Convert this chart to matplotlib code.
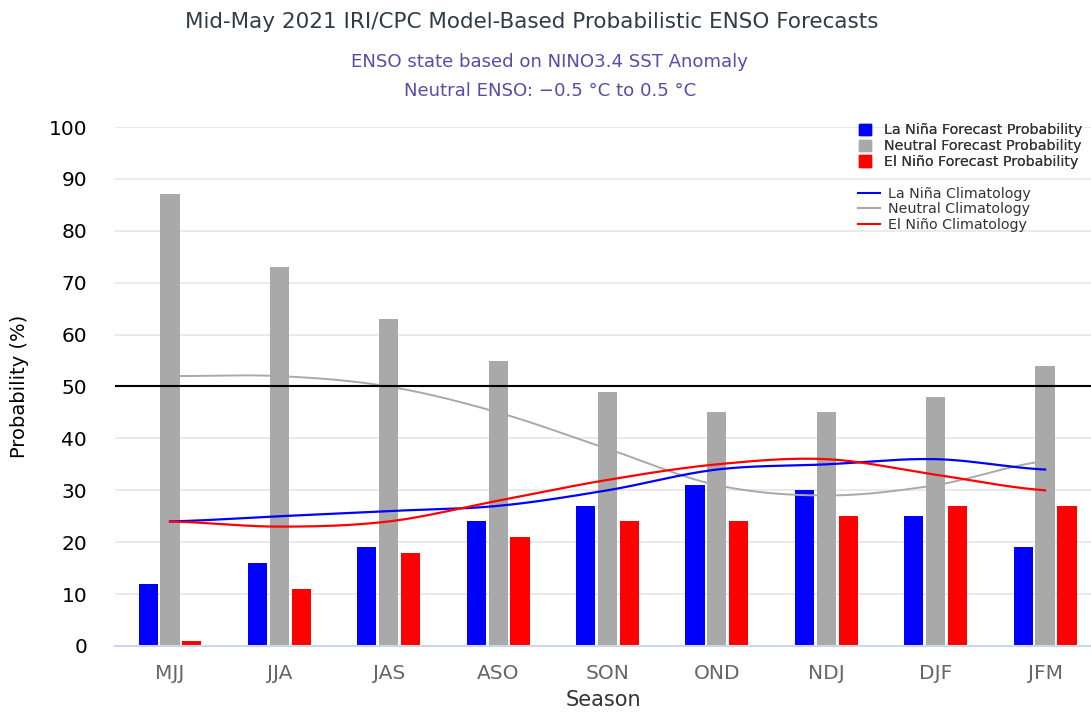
import numpy as np
import matplotlib
matplotlib.use('Agg')
import matplotlib.pyplot as plt
from matplotlib.patches import Patch
from matplotlib.lines import Line2D

seasons = ['MJJ', 'JJA', 'JAS', 'ASO', 'SON', 'OND', 'NDJ', 'DJF', 'JFM']
la_nina = [12, 16, 19, 24, 27, 31, 30, 25, 19]
neutral = [87, 73, 63, 55, 49, 45, 45, 48, 54]
el_nino = [1, 11, 18, 21, 24, 24, 25, 27, 27]

clim_la_nina = [24, 25, 26, 27, 30, 34, 35, 36, 34]
clim_neutral = [52, 52, 50, 45, 38, 31, 29, 31, 35.6]
clim_el_nino = [24, 23, 24, 28, 32, 35, 36, 33, 30]

BLUE = '#0000ff'
GRAY = '#a9a9a9'
RED = '#ff0000'


def smooth(xs, ys, n=40):
    # catmull-rom style curve through the points
    xs = np.asarray(xs, float)
    ys = np.asarray(ys, float)
    m = np.gradient(ys, xs)
    m[0] = 0.5 * m[0]
    m[-1] = 0.5 * m[-1]
    ox, oy = [], []
    for i in range(len(xs) - 1):
        h = xs[i + 1] - xs[i]
        t = np.linspace(0, 1, n, endpoint=False)
        h00 = 2 * t**3 - 3 * t**2 + 1
        h10 = t**3 - 2 * t**2 + t
        h01 = -2 * t**3 + 3 * t**2
        h11 = t**3 - t**2
        ox.extend(xs[i] + t * h)
        oy.extend(h00 * ys[i] + h10 * h * m[i] + h01 * ys[i + 1] + h11 * h * m[i + 1])
    ox.append(xs[-1])
    oy.append(ys[-1])
    return np.array(ox), np.array(oy)


fig = plt.figure(figsize=(10.91, 7.18), dpi=100)
ax = fig.add_axes([0.1054, 0.1003, 0.8946, 0.7228])

x = np.arange(len(seasons))
w = 0.175
ax.bar(x - 0.2, la_nina, w, color=BLUE, zorder=3)
ax.bar(x, neutral, w, color=GRAY, zorder=3)
ax.bar(x + 0.2, el_nino, w, color=RED, zorder=3)

for vals, c in [(clim_neutral, GRAY), (clim_la_nina, BLUE), (clim_el_nino, RED)]:
    sx, sy = smooth(x, vals)
    ax.plot(sx, sy, color=c, lw=1.6 if c != GRAY else 1.4, zorder=4)

ax.axhline(50, color='black', lw=1.5, zorder=5)

ax.set_xlim(-0.503, 8.42)
ax.set_ylim(0, 100)
ax.set_yticks(range(0, 101, 10))
ax.set_xticks(x)
ax.set_xticklabels(seasons, color='#666666', fontsize=14.5)
ax.tick_params(axis='y', labelsize=14.5, length=0, pad=20, labelcolor='black')
ax.tick_params(axis='x', length=0, pad=13)
ax.grid(axis='y', color='#e6e6e6', lw=1.2, zorder=0)
for s in ['top', 'right', 'left']:
    ax.spines[s].set_visible(False)
ax.spines['bottom'].set_color('#ccd6eb')
ax.spines['bottom'].set_linewidth(1.5)
ax.spines['bottom'].set_zorder(6)

ax.set_xlabel('Season', fontsize=15, color='#333333', labelpad=5)
ax.set_ylabel('Probability (%)', fontsize=14, color='black', labelpad=14)

fig.text(0.487, 0.969, 'Mid-May 2021 IRI/CPC Model-Based Probabilistic ENSO Forecasts',
         ha='center', va='center', fontsize=15.5, color='#2e3d45')
fig.text(0.504, 0.913, 'ENSO state based on NINO3.4 SST Anomaly',
         ha='center', va='center', fontsize=13.1, color='#5b4aa6')
fig.text(0.504, 0.873, 'Neutral ENSO: \u22120.5 \u00b0C to 0.5 \u00b0C',
         ha='center', va='center', fontsize=13.1, color='#5b4aa6')

h1 = [Patch(color=BLUE), Patch(color=GRAY), Patch(color=RED)]
l1 = ['La Niña Forecast Probability', 'Neutral Forecast Probability', 'El Niño Forecast Probability']
leg1 = fig.legend(h1, l1, loc='upper left', bbox_to_anchor=(0.781, 0.838), frameon=False,
                  fontsize=10.3, handlelength=0.85, handleheight=0.85, handletextpad=0.9,
                  labelspacing=0.12, borderpad=0, labelcolor='#333333')
h2 = [Line2D([], [], color=BLUE, lw=1.5), Line2D([], [], color=GRAY, lw=1.5),
      Line2D([], [], color=RED, lw=1.5)]
l2 = ['La Niña Climatology', 'Neutral Climatology', 'El Niño Climatology']
fig.legend(h2, l2, loc='upper left', bbox_to_anchor=(0.780, 0.750), frameon=False,
           fontsize=10.3, handlelength=1.5, handletextpad=0.6,
           labelspacing=0.12, borderpad=0, labelcolor='#333333')
fig.add_artist(leg1)

fig.savefig('out.png', dpi=100)
